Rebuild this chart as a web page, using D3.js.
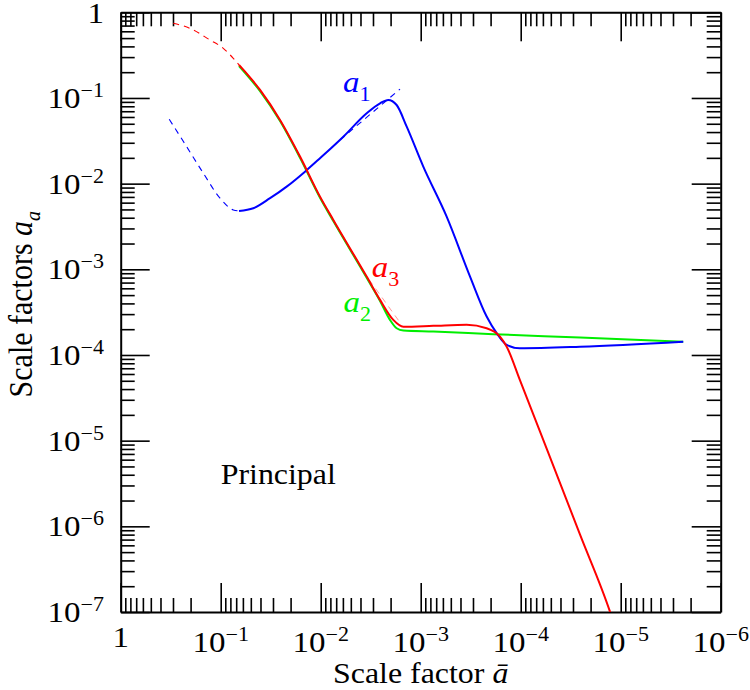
<!DOCTYPE html>
<html>
<head>
<meta charset="utf-8">
<script src="https://cdn.jsdelivr.net/npm/d3@7"></script>
<style>
  body { margin: 0; background: #fff; }
  svg { display: block; }
  text { font-family: "Liberation Serif", "Times New Roman", Times, serif; }
</style>
</head>
<body>
<div id="chart"></div>
<script>
// values: scale factor abar and the three scale factors
var a1DashBar = [0.327, 0.219, 0.149, 0.1016, 0.0748, 0.0656];
var a1DashVal = [0.0564, 0.0270, 0.0132, 6.76e-3, 4.93e-3, 4.80e-3];
var a1Bar = [0.0656, 0.0472, 0.0321, 0.0219, 0.01436, 0.01016, 5.94e-3, 3.47e-3, 2.55e-3, 2.11e-3, 1.74e-3, 1.38e-3, 9.42e-4, 5.50e-4, 3.21e-4, 2.19e-4, 1.74e-4, 1.38e-4, 1.02e-4, 2.55e-5, 2.37e-6];
var a1Val = [4.80e-3, 5.16e-3, 6.76e-3, 9.23e-3, 0.0138, 0.0198, 0.0353, 0.0663, 0.0867, 0.0948, 0.0828, 0.0462, 0.0158, 4.12e-3, 8.22e-4, 2.81e-4, 1.80e-4, 1.31e-4, 1.20e-4, 1.25e-4, 1.43e-4];
var a1TanBar = [6.41e-3, 1.61e-3];
var a1TanVal = [0.0324, 0.127];

var a2Bar = [0.0656, 0.0404, 0.0255, 0.0161, 0.01016, 7.48e-3, 3.47e-3, 2.55e-3, 2.03e-3, 1.74e-3, 1.49e-3, 7.48e-4, 1.88e-4, 2.55e-5, 2.37e-6];
var a2Val = [0.236, 0.120, 0.0537, 0.0200, 6.84e-3, 3.66e-3, 7.97e-4, 4.27e-4, 2.57e-4, 2.05e-4, 1.93e-4, 1.88e-4, 1.75e-4, 1.60e-4, 1.43e-4];

var a3DashBar = [0.298, 0.203, 0.128, 0.0942, 0.0748, 0.0656];
var a3DashVal = [0.744, 0.650, 0.475, 0.380, 0.290, 0.243];
var a3Bar = [0.0656, 0.0404, 0.0255, 0.0161, 0.01016, 7.48e-3, 3.47e-3, 2.55e-3, 1.88e-3, 1.49e-3, 7.48e-4, 3.47e-4, 2.19e-4, 1.61e-4, 1.38e-4, 1.02e-4, 5.5e-5, 2.55e-5, 1.28e-5, 1.14e-5];
var a3Val = [0.243, 0.124, 0.0554, 0.0207, 7.05e-3, 3.77e-3, 8.22e-4, 4.40e-4, 2.57e-4, 2.14e-4, 2.19e-4, 2.25e-4, 2.05e-4, 1.64e-4, 1.25e-4, 5.13e-5, 8.07e-6, 8.0e-7, 1.01e-7, 6.7e-8];
var a3TanBar = [3.8e-3, 1.57e-3];
var a3TanVal = [9.6e-4, 2.3e-4];

var xTicks = [1, 1e-1, 1e-2, 1e-3, 1e-4, 1e-5, 1e-6];
var xTickLabels = ["1", "-1", "-2", "-3", "-4", "-5", "-6"];
var yTicks = [1, 1e-1, 1e-2, 1e-3, 1e-4, 1e-5, 1e-6, 1e-7];
var yTickLabels = ["1", "-1", "-2", "-3", "-4", "-5", "-6", "-7"];

var width = 750,
    height = 690,
    margin = { top: 12.3, right: 29.3, bottom: 78, left: 120.7 },
    sx = 1.1; // glyphs in the picture are a little wider than tall

var x = d3.scaleLog().domain([1, 1e-6]).range([margin.left, width - margin.right]);
var y = d3.scaleLog().domain([1e-7, 1]).range([height - margin.bottom, margin.top]);

var minorX = [], minorY = [];
d3.range(1, 7).forEach(function(n) { d3.range(2, 10).forEach(function(m) { minorX.push(m * Math.pow(10, -n)); }); });
d3.range(1, 8).forEach(function(n) { d3.range(2, 10).forEach(function(m) { minorY.push(m * Math.pow(10, -n)); }); });

var svg = d3.select("#chart").append("svg")
    .attr("width", width)
    .attr("height", height);

var plotLeft = x.range()[0], plotRight = x.range()[1],
    plotTop = y.range()[1], plotBottom = y.range()[0];

svg.append("defs").append("clipPath").attr("id", "plot")
  .append("rect")
    .attr("x", plotLeft).attr("y", plotTop)
    .attr("width", plotRight - plotLeft)
    .attr("height", plotBottom - plotTop);

// ticks on all four sides, pointing inward
function ticks(axis, transform, values, size, keepDomain) {
    var g = svg.append("g")
        .attr("transform", transform)
        .call(axis.tickValues(values).tickSize(size).tickSizeOuter(0).tickFormat(""));
    g.selectAll(".tick line").attr("stroke", "#000").attr("stroke-width", 1.6);
    if (keepDomain) g.select(".domain").attr("stroke", "#000").attr("stroke-width", 2);
    else g.select(".domain").remove();
}
ticks(d3.axisBottom(x), `translate(0,${plotBottom})`, xTicks, -29, true);
ticks(d3.axisBottom(x), `translate(0,${plotBottom})`, minorX, -14, false);
ticks(d3.axisTop(x), `translate(0,${plotTop})`, xTicks, -29, true);
ticks(d3.axisTop(x), `translate(0,${plotTop})`, minorX, -14, false);
ticks(d3.axisLeft(y), `translate(${plotLeft},0)`, yTicks, -29, true);
ticks(d3.axisLeft(y), `translate(${plotLeft},0)`, minorY, -14, false);
ticks(d3.axisRight(y), `translate(${plotRight},0)`, yTicks, -29, true);
ticks(d3.axisRight(y), `translate(${plotRight},0)`, minorY, -14, false);

// text helper: "10" with superscript exponent
function power(g, exp) {
    if (exp === "1") { g.text("1"); return; }
    g.append("tspan").text("10");
    g.append("tspan").attr("font-size", 20).attr("dy", -11).text(exp.replace("-", "\u2212"));
}

xTicks.forEach(function(v, i) {
    var t = svg.append("text")
        .attr("transform", `translate(${x(v)},${i === 0 ? 647 : 652}) scale(${sx},1)`)
        .attr("text-anchor", "middle")
        .attr("font-size", 30);
    power(t, xTickLabels[i]);
});
yTicks.forEach(function(v, i) {
    var t = svg.append("text")
        .attr("transform", `translate(104,${y(v) + (i === 0 ? 11 : 10)}) scale(${sx},1)`)
        .attr("text-anchor", "end")
        .attr("font-size", 30);
    power(t, yTickLabels[i]);
});

// axis titles
var xt = svg.append("text")
    .attr("transform", `translate(${(plotLeft + plotRight) / 2},683) scale(${sx},1)`)
    .attr("text-anchor", "middle")
    .attr("font-size", 29);
xt.append("tspan").text("Scale factor ");
xt.append("tspan").attr("font-style", "italic").text("\u0101");

var yt = svg.append("text")
    .attr("transform", `translate(32,${(plotTop + plotBottom) / 2 - 8}) scale(${sx},1) rotate(-90)`)
    .attr("text-anchor", "middle")
    .attr("font-size", 30);
yt.append("tspan").text("Scale factors ");
yt.append("tspan").attr("font-style", "italic").text("a");
yt.append("tspan").attr("font-style", "italic").attr("font-size", 20).attr("dy", 7).text("a");

// curves
var line = d3.line()
    .x(function(d) { return x(d[0]); })
    .y(function(d) { return y(d[1]); })
    .curve(d3.curveMonotoneX);

var plot = svg.append("g").attr("clip-path", "url(#plot)");
function curve(bars, vals, color, dashed, w) {
    plot.append("path")
        .datum(d3.zip(bars, vals))
        .attr("fill", "none")
        .attr("stroke", color)
        .attr("stroke-width", w || (dashed ? 1.1 : 2))
        .attr("stroke-dasharray", dashed ? "6,5" : null)
        .attr("d", line);
}
curve(a1DashBar, a1DashVal, "#0000ff", true);
curve(a1TanBar, a1TanVal, "#0000ff", true);
curve(a3DashBar, a3DashVal, "#ff0000", true);
curve(a3TanBar, a3TanVal, "#ff8080", true, 0.8);
curve(a2Bar, a2Val, "#00ee00", false);
curve(a1Bar, a1Val, "#0000ff", false);
curve(a3Bar, a3Val, "#ff0000", false);

// curve labels
var labelBar = [5.98e-3, 3.09e-3, 5.9e-3];
var labelVal = [0.1185, 8.2e-4, 3.2e-4];
var labelSub = ["1", "3", "2"];
var labelColor = ["#0000ff", "#ff0000", "#00ee00"];
labelBar.forEach(function(b, i) {
    var t = svg.append("text")
        .attr("transform", `translate(${x(b)},${y(labelVal[i])}) scale(${sx},1)`)
        .attr("fill", labelColor[i])
        .attr("font-size", 30);
    t.append("tspan").attr("font-style", "italic").text("a");
    t.append("tspan").attr("font-size", 20).attr("dy", 9).text(labelSub[i]);
});

svg.append("text")
    .attr("transform", `translate(${x(0.1)},${y(3.1e-6)}) scale(${sx},1)`)
    .attr("font-size", 29)
    .text("Principal");
</script>
</body>
</html>
